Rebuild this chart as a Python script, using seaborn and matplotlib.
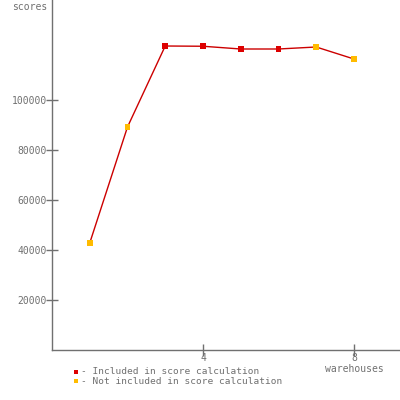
import numpy as np
import pandas as pd
import seaborn as sns
import matplotlib.pyplot as plt

# Werte
warehouses = [1, 2, 3, 4, 5, 6, 7, 8]
scores = [42800, 89200, 121600, 121500, 120400, 120400, 121200, 116400]
included = ['no', 'no', 'yes', 'yes', 'yes', 'yes', 'no', 'no']
yticks = [20000, 40000, 60000, 80000, 100000]
xticks = [4, 8]

df = pd.DataFrame({'warehouses': warehouses, 'scores': scores, 'included': included})

sns.set_style('white')
plt.rcParams['font.family'] = ['DejaVu Sans Mono']

grey = '#707070'
fig = plt.figure(figsize=(4, 4), dpi=100)
ax = fig.add_axes([52 / 400, 50 / 400, 348 / 400, 350 / 400])

sns.lineplot(data=df, x='warehouses', y='scores', color='#cc0000', lw=1, ax=ax)
sns.scatterplot(data=df, x='warehouses', y='scores', hue='included',
                palette={'yes': '#dd0000', 'no': '#ffbb00'}, marker='s', s=18,
                linewidth=0, legend=False, ax=ax, zorder=3)

ax.set_xlim(0, 9.22)
ax.set_ylim(0, 140000)
ax.set_xticks(xticks)
ax.set_yticks(yticks)
ax.set_xticklabels([str(t) for t in xticks])
ax.set_yticklabels([str(t) for t in yticks])
ax.tick_params(bottom=True, left=True, direction='inout', length=9, width=1,
               color=grey, labelcolor=grey, labelsize=7)
ax.tick_params(axis='x', pad=-2)
ax.tick_params(axis='y', pad=-1)
ax.set_xlabel('')
ax.set_ylabel('')
for s in ['top', 'right']:
    ax.spines[s].set_visible(False)
for s in ['left', 'bottom']:
    ax.spines[s].set_color(grey)
    ax.spines[s].set_linewidth(1)

fig.text(12 / 400, 1 - 2 / 400, 'scores', fontsize=7, color=grey, va='top', ha='left')
fig.text(354 / 400, 1 - 364 / 400, 'warehouses', fontsize=7, color=grey, va='top', ha='center')

# Legende unten links
ax.plot([76 / 400], [1 - 372 / 400], 's', ms=3.5, color='#dd0000', mew=0,
        transform=fig.transFigure, clip_on=False)
ax.plot([76 / 400], [1 - 381 / 400], 's', ms=3.5, color='#ffbb00', mew=0,
        transform=fig.transFigure, clip_on=False)
fig.text(81 / 400, 1 - 372 / 400, '- Included in score calculation', fontsize=6.8, color=grey, va='center')
fig.text(81 / 400, 1 - 382 / 400, '- Not included in score calculation', fontsize=6.8, color=grey, va='center')

plt.savefig('out.png', dpi=100)
